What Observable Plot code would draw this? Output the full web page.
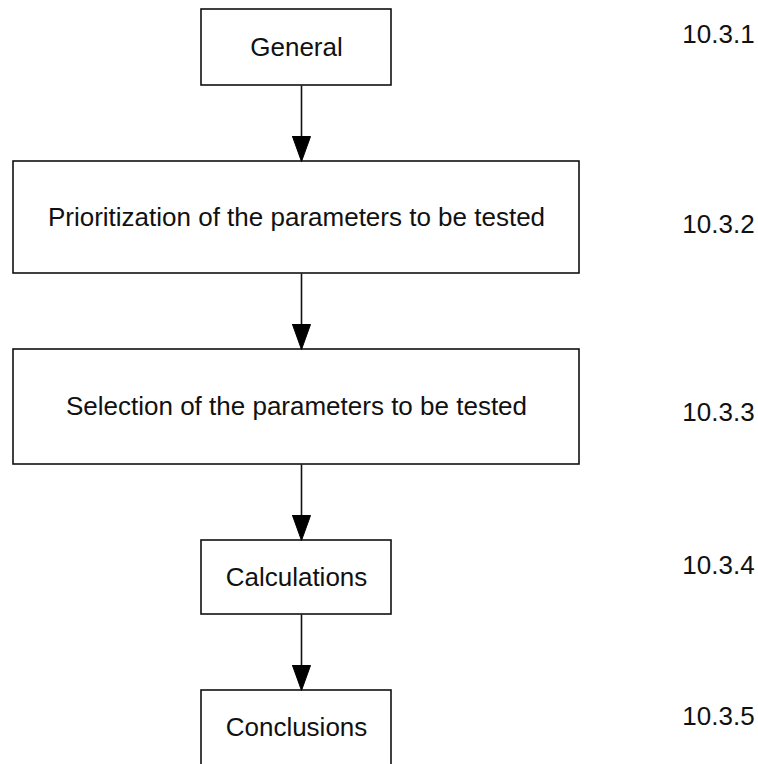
<!DOCTYPE html>
<html>
<head>
<meta charset="utf-8">
<script src="https://cdn.jsdelivr.net/npm/d3@7"></script>
<script src="https://cdn.jsdelivr.net/npm/@observablehq/plot@0.6"></script>
<style>
  html, body { margin: 0; padding: 0; background: #fff; }
  #chart { width: 758px; height: 764px; }
</style>
</head>
<body>
<div id="chart"></div>
<script>
// Flowchart content
const steps = [
  "General",
  "Prioritization of the parameters to be tested",
  "Selection of the parameters to be tested",
  "Calculations",
  "Conclusions"
];
const sections = ["10.3.1", "10.3.2", "10.3.3", "10.3.4", "10.3.5"];

// Layout (diagram coordinates, pixels of the 758x764 canvas)
const boxLeft   = [201, 13, 13, 201, 201];
const boxRight  = [391, 579, 579, 391, 391];
const boxTop    = [9, 161, 349, 540, 690];
const boxBottom = [85, 273, 464, 614, 765];
const sectionY  = [34, 224, 412, 565, 716];
const sectionX  = 718;
const arrowX    = 301;
const headLen = 25, headHalf = 9;

const boxes = steps.map((label, i) => ({
  label, x1: boxLeft[i], x2: boxRight[i], y1: boxTop[i], y2: boxBottom[i],
  cx: (boxLeft[i] + boxRight[i]) / 2, cy: (boxTop[i] + boxBottom[i]) / 2
}));
const labels = sections.map((s, i) => ({s, x: sectionX, y: sectionY[i]}));
const arrows = d3.range(steps.length - 1).map(i => ({
  id: i, x: arrowX, y1: boxBottom[i], y2: boxTop[i + 1]
}));
const heads = arrows.flatMap(a => [
  {id: a.id, x: a.x - headHalf, y: a.y2 - headLen},
  {id: a.id, x: a.x + headHalf, y: a.y2 - headLen},
  {id: a.id, x: a.x, y: a.y2},
  {id: a.id, x: a.x - headHalf, y: a.y2 - headLen}
]);

const font = "'Liberation Sans', Arial, Helvetica, sans-serif";

const chart = Plot.plot({
  width: 758,
  height: 764,
  margin: 0,
  x: {domain: [0, 758], range: [0, 758], axis: null},
  y: {domain: [0, 764], range: [0, 764], axis: null},
  style: {fontFamily: font, background: "white"},
  marks: [
    Plot.rect(boxes, {x1: "x1", x2: "x2", y1: "y1", y2: "y2", fill: "white", stroke: "#111", strokeWidth: 1.6}),
    Plot.link(arrows, {x1: "x", x2: "x", y1: "y1", y2: d => d.y2 - headLen + 2, stroke: "#111", strokeWidth: 1.6}),
    Plot.line(heads, {x: "x", y: "y", z: "id", fill: "#000", stroke: "#000", strokeWidth: 1}),
    Plot.text(boxes, {x: "cx", y: "cy", text: "label", fontSize: 26, fill: "#111", fontFamily: font}),
    Plot.text(labels, {x: "x", y: "y", text: "s", fontSize: 26, fill: "#111", fontFamily: font})
  ]
});
document.getElementById("chart").appendChild(chart);
</script>
</body>
</html>
